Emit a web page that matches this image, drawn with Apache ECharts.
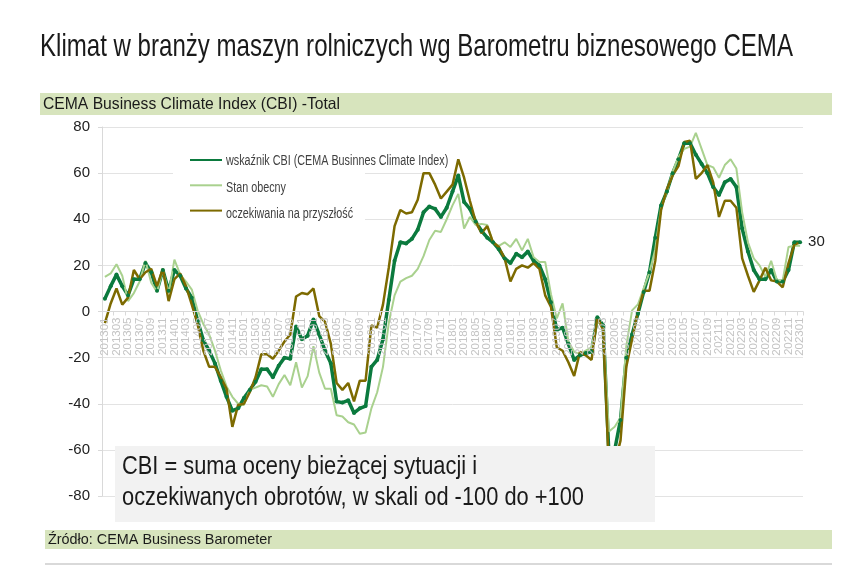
<!DOCTYPE html>
<html>
<head>
<meta charset="utf-8">
<script src="https://cdn.jsdelivr.net/npm/echarts@6/dist/echarts.min.js"></script>
<style>
  html, body { margin: 0; padding: 0; background: #fff; }
  #chart { width: 855px; height: 573px; }
</style>
</head>
<body>
<div id="chart"></div>
<script>
// miesiące 2013-01 .. 2023-01
const months = [];
for (let y = 2013; y <= 2023; y++) {
    for (let m = 1; m <= 12; m++) {
        if (y === 2023 && m > 1) break;
        months.push(String(y) + (m < 10 ? '0' + m : m));
    }
}

// wskaźnik CBI
const cbi = [
    5.5, 11, 16, 11, 7, 14, 14, 21, 17, 9,
    18, 9, 18, 15.5, 10, 6, -4, -12.5, -17, -22.5,
    -30, -37, -43, -42, -37.5, -34, -30.5, -25, -25, -28.5,
    -23.5, -20, -20.5, -6.5, -12, -10.5, -3.5, -10, -17, -22.5,
    -39, -39.5, -38.5, -44, -42, -41, -24, -21, -12, 5,
    22, 30, 29.5, 31.5, 35.5, 43, 45.5, 44.5, 41, 45,
    52, 59, 47.5, 44.5, 39, 35, 32, 30, 27, 23,
    21, 25, 23.5, 26, 22, 20, 14, 4, -8, -7,
    -14, -21, -19, -18, -17.5, -2.5, -6, -62, -60, -47,
    -20, -10, -1, 8.5, 17, 32, 46, 52, 60, 66,
    73, 73, 68, 64, 60, 54, 50.5, 56, 57.5, 54,
    36, 26, 18, 14, 14, 18, 13, 13, 18, 30, 30
];

// stan obecny
const stan = [
    15, 16.5, 20.5, 15.5, 4.5, 8, 13, 22, 12.5, 8.5,
    18, 8, 22.5, 16, 13, 9.5, 0.5, -5.5, -10, -17,
    -25.5, -32.5, -37, -40, -40.5, -34, -33, -32, -32.5, -37,
    -31.5, -27.5, -32, -22, -33, -28, -15, -26.5, -33.5, -33.5,
    -45, -45.5, -48, -49, -53, -52.5, -42, -35, -24, -5,
    7, 13, 14.5, 15.5, 18.5, 24, 31, 35, 34.5, 40,
    46, 51, 36, 41, 37.5, 38, 37.5, 30, 28.5, 30,
    28, 31.5, 26.5, 31.5, 23.5, 21.5, 21.5, 7.5, -3, 3.5,
    -13, -17.5, -18.5, -17, -15.5, -4.5, -6, -52, -50, -46,
    -15, 0.5, 3, 10, 17, 27, 45, 52, 60.5, 67,
    70.5, 71.5, 77.5, 70.5, 63.5, 62.5, 58, 63.5, 66, 62,
    43, 30, 23, 20, 15, 22, 13.5, 13.5, 28, 28.5, 28.5
];

// oczekiwania na przyszłość
const oczek = [
    -5, 3.5, 10, 3, 6, 18, 14, 17, 18.5, 11,
    18.5, 4.5, 14, 16.5, 11, 3, -5.5, -17, -24, -24,
    -28.5, -33.5, -50, -40.5, -40, -35, -28.5, -18.5, -18.5, -20.5,
    -17, -13, -10, 6.5, 8, 7.5, 10, -2, -4.5, -14,
    -31, -34, -31, -39, -30, -30, -6, -7, 3, 19,
    37, 44, 42.5, 43, 48.5, 60, 60, 55, 49, 52,
    55, 66, 58, 48, 39, 34, 37, 30, 28, 23,
    13, 18.5, 20, 19, 21, 18.5, 7, 2, -15.5, -17,
    -22, -28, -17.5, -19, -21, -2.5, -8, -68, -66, -56,
    -24, -12, 0, 9, 9, 22, 44, 53, 59, 63,
    73.5, 74, 57.5, 60, 63.5, 56, 41, 48, 48, 45,
    23, 15.5, 8.5, 13.5, 19, 13.5, 13, 10.5, 21, 29, 30
];

const names = ['wskaźnik CBI (CEMA Businnes Climate Index)', 'Stan obecny', 'oczekiwania na przyszłość'];

const sans = '"Liberation Sans", Arial, sans-serif';

// tekst "zwężony" przez skalowanie w poziomie (brak fontu Arial Narrow)
function narrowText(x, y, text, size, sx, fill, extra) {
    return {
        type: 'text', x: x, y: y, scaleX: sx, originX: 0, originY: 0, z: 11,
        style: Object.assign({ text: text, font: size + 'px ' + sans, fill: fill }, extra || {})
    };
}

let chart = echarts.init(document.getElementById('chart'));

let option = {
    animation: false,
    backgroundColor: '#fff',
    grid: { left: 102, right: 52, top: 127, bottom: 77 },
    legend: {
        orient: 'vertical',
        left: 184,
        top: 149,
        itemWidth: 32,
        itemHeight: 12,
        itemGap: 14.5,
        formatter: () => '',
        data: names.map(n => ({ name: n, itemStyle: { opacity: 0 } }))
    },
    xAxis: {
        type: 'category',
        data: months,
        boundaryGap: true,
        z: 3,
        offset: -184.5,
        axisLine: { onZero: false, lineStyle: { color: '#d9d9d9' } },
        axisTick: { show: true, interval: 1, length: 4, lineStyle: { color: '#d9d9d9' } },
        axisLabel: {
            interval: 0,
            // co drugi miesiąc
            formatter: (v, i) => (i % 2 ? '' : v),
            rotate: 90,
            margin: 6,
            fontFamily: sans,
            fontSize: 11.5,
            color: '#c4c4c4'
        },
        splitLine: { show: false }
    },
    yAxis: {
        type: 'value',
        min: -80,
        max: 80,
        interval: 20,
        axisLine: { show: true, lineStyle: { color: '#d9d9d9' } },
        axisTick: { show: true, length: 4, lineStyle: { color: '#d9d9d9' } },
        axisLabel: { fontFamily: sans, fontSize: 15, color: '#222', margin: 12 },
        splitLine: { lineStyle: { color: '#e3e3e3', width: 1 } }
    },
    series: [
        {
            name: names[0],
            type: 'line',
            data: cbi,
            color: '#0b7a3e',
            lineStyle: { width: 3.5, color: '#0b7a3e' },
            symbol: 'circle',
            symbolSize: 4,
            showAllSymbol: true,
            itemStyle: { color: '#0b7a3e' },
            endLabel: {
                show: true,
                formatter: p => p.value,
                fontFamily: sans,
                fontSize: 15,
                color: '#222',
                distance: 8
            },
            z: 2
        },
        {
            name: names[1],
            type: 'line',
            data: stan,
            color: '#a9d18e',
            lineStyle: { width: 2, color: '#a9d18e' },
            symbol: 'none',
            z: 2
        },
        {
            name: names[2],
            type: 'line',
            data: oczek,
            color: '#7d6a00',
            lineStyle: { width: 2.5, color: '#7d6a00' },
            symbol: 'none',
            z: 2
        }
    ],
    graphic: [
        narrowText(40, 31, 'Klimat w branży maszyn rolniczych wg Barometru biznesowego CEMA', 32, 0.752, '#1a1a1a'),
        {
            type: 'rect', z: 10,
            shape: { x: 40, y: 93, width: 792, height: 22 },
            style: { fill: '#d7e4bd' }
        },
        narrowText(43, 96, 'CEMA Business Climate Index (CBI) -Total', 16.5, 0.95, '#1a1a1a'),
        {
            type: 'rect', z: 1,
            shape: { x: 173, y: 146, width: 192, height: 80 },
            style: { fill: '#fff' }
        },
        narrowText(226, 154, names[0], 14, 0.77, '#404040'),
        narrowText(226, 181, names[1], 14, 0.77, '#404040'),
        narrowText(226, 207, names[2], 14, 0.77, '#404040'),
        {
            type: 'rect', z: 100,
            shape: { x: 115, y: 446, width: 540, height: 76 },
            style: { fill: '#f2f2f2' }
        },
        Object.assign(narrowText(122, 451, 'CBI = suma oceny bieżącej sytuacji i\noczekiwanych obrotów, w skali od -100 do +100',
            26, 0.84, '#1a1a1a', { lineHeight: 31 }), { z: 101 }),
        {
            type: 'rect', z: 10,
            shape: { x: 45, y: 530, width: 787, height: 19 },
            style: { fill: '#d7e4bd' }
        },
        narrowText(48, 532, 'Źródło: CEMA Business Barometer', 15, 0.96, '#1a1a1a'),
        {
            type: 'line', z: 10,
            shape: { x1: 45, y1: 564, x2: 832, y2: 564 },
            style: { stroke: '#d9d9d9', lineWidth: 2 }
        }
    ]
};

chart.setOption(option);
</script>
</body>
</html>
